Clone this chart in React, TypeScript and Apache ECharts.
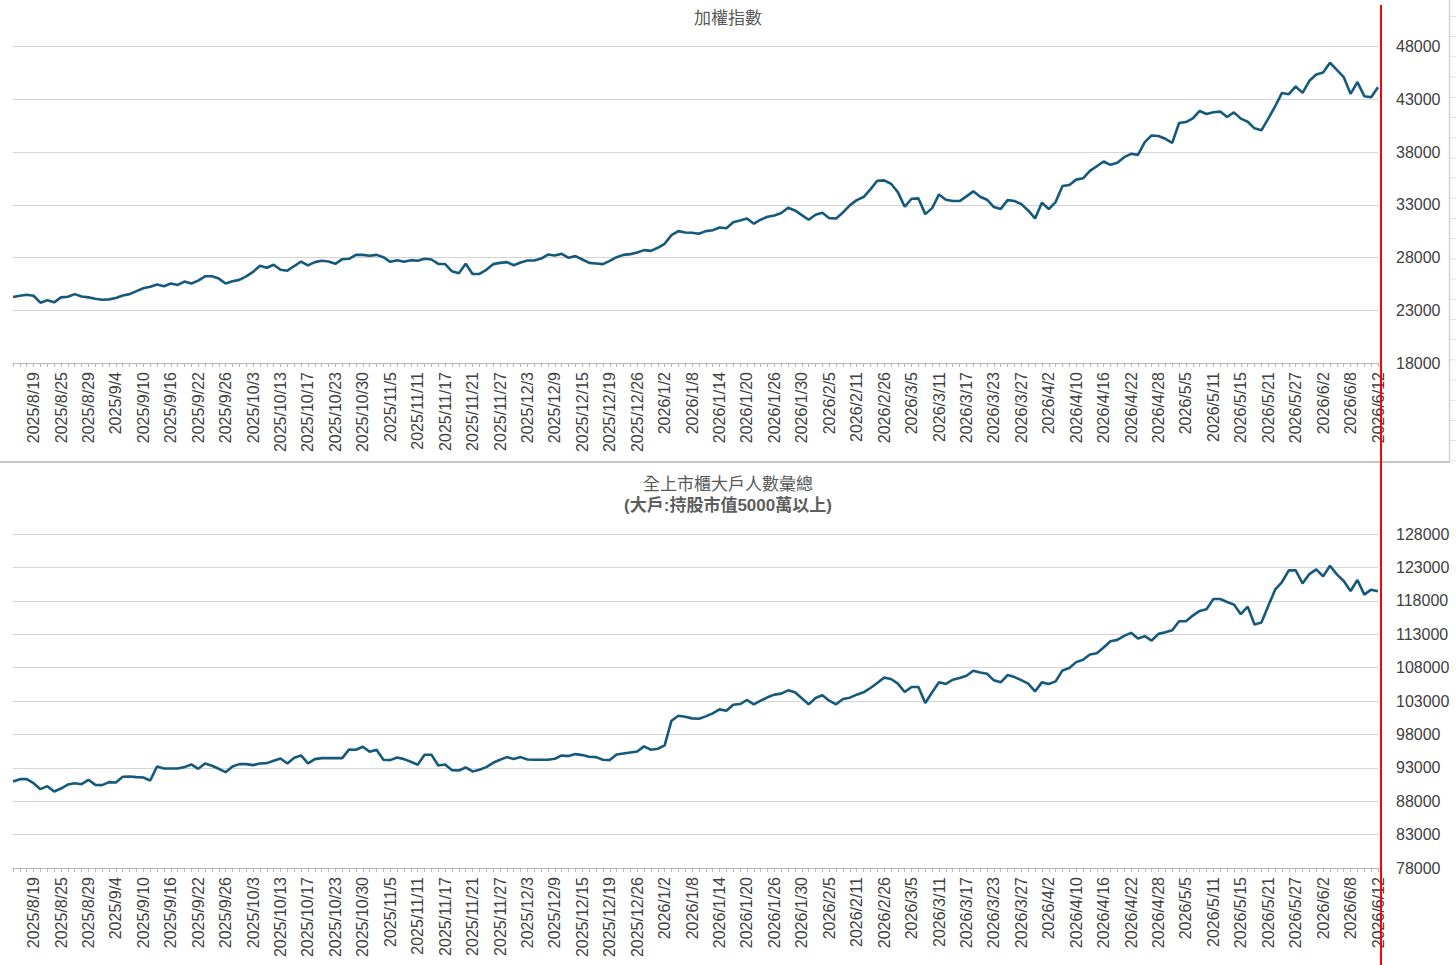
import React, { useEffect, useRef } from "react";
import * as echarts from "echarts";

// Trading days (Taiwan market), month -> days
const TRADING_DAYS: [string, number[]][] = [
  ["2025/8", [14, 15, 18, 19, 20, 21, 22, 25, 26, 27, 28, 29]],
  ["2025/9", [1, 2, 3, 4, 5, 8, 9, 10, 11, 12, 15, 16, 17, 18, 19, 22, 23, 24, 25, 26, 30]],
  ["2025/10", [1, 2, 3, 7, 8, 9, 13, 14, 15, 16, 17, 20, 21, 22, 23, 27, 28, 29, 30, 31]],
  ["2025/11", [3, 4, 5, 6, 7, 10, 11, 12, 13, 14, 17, 18, 19, 20, 21, 24, 25, 26, 27, 28]],
  ["2025/12", [1, 2, 3, 4, 5, 8, 9, 10, 11, 12, 15, 16, 17, 18, 19, 22, 23, 24, 26, 29, 30, 31]],
  ["2026/1", [2, 5, 6, 7, 8, 9, 12, 13, 14, 15, 16, 19, 20, 21, 22, 23, 26, 27, 28, 29, 30]],
  ["2026/2", [2, 3, 4, 5, 6, 9, 10, 11, 23, 24, 25, 26]],
  ["2026/3", [2, 3, 4, 5, 6, 9, 10, 11, 12, 13, 16, 17, 18, 19, 20, 23, 24, 25, 26, 27, 30, 31]],
  ["2026/4", [1, 2, 7, 8, 9, 10, 13, 14, 15, 16, 17, 20, 21, 22, 23, 24, 27, 28, 29, 30]],
  ["2026/5", [4, 5, 6, 7, 8, 11, 12, 13, 14, 15, 18, 19, 20, 21, 22, 25, 26, 27, 28, 29]],
  ["2026/6", [1, 2, 3, 4, 5, 8, 9, 10, 11, 12]],
];

const CATEGORIES: string[] = TRADING_DAYS.flatMap(([m, days]) => days.map((d) => `${m}/${d}`));

// 加權指數
const TAIEX_VALUES = [
  24250, 24375, 24470, 24375, 23720, 23940, 23750, 24220, 24280, 24530,
  24310, 24220, 24090, 24000, 24030, 24160, 24400, 24530, 24810, 25090,
  25220, 25440, 25280, 25530, 25400, 25720, 25530, 25810, 26220, 26220,
  26000, 25530, 25750, 25880, 26220, 26630, 27220, 27030, 27310, 26840,
  26750, 27190, 27620, 27250, 27560, 27690, 27620, 27400, 27840, 27880,
  28250, 28250, 28160, 28250, 28030, 27590, 27750, 27590, 27750, 27690,
  27880, 27810, 27400, 27380, 26690, 26500, 27400, 26440, 26450, 26830,
  27370, 27490, 27560, 27270, 27520, 27710, 27710, 27900, 28280, 28190,
  28350, 27970, 28130, 27810, 27490, 27430, 27370, 27680, 28030, 28250,
  28320, 28470, 28700, 28630, 28920, 29300, 30120, 30500, 30370, 30340,
  30250, 30500, 30590, 30850, 30780, 31350, 31510, 31700, 31200, 31580,
  31860, 31990, 32210, 32720, 32460, 32020, 31580, 32050, 32240, 31730,
  31700, 32270, 32940, 33440, 33730, 34460, 35280, 35310, 34990, 34200,
  32810, 33570, 33600, 32110, 32680, 33980, 33480, 33350, 33350, 33790,
  34270, 33760, 33480, 32780, 32590, 33440, 33350, 33060, 32460, 31700,
  33190, 32590, 33250, 34780, 34870, 35380, 35510, 36210, 36650, 37100,
  36780, 36970, 37510, 37830, 37730, 38940, 39570, 39510, 39250, 38870,
  40750, 40840, 41190, 41890, 41600, 41760, 41830, 41320, 41760, 41160,
  40870, 40240, 40050, 41160, 42330, 43600, 43480, 44210, 43600, 44750,
  45350, 45540, 46460, 45790, 45100, 43510, 44620, 43290, 43190, 44140,
];

// 全上市櫃大戶人數彙總
const HOLDER_VALUES = [
  90950, 91300, 91300, 90700, 89800, 90250, 89450, 89900, 90500, 90700,
  90550, 91200, 90450, 90400, 90850, 90800, 91650, 91700, 91600, 91550,
  91100, 93200, 92900, 92900, 92900, 93100, 93500, 92850, 93650, 93300,
  92850, 92350, 93200, 93550, 93550, 93400, 93650, 93700, 94050, 94400,
  93650, 94500, 94850, 93650, 94300, 94450, 94450, 94450, 94450, 95750,
  95700, 96150, 95400, 95700, 94200, 94150, 94550, 94300, 93900, 93450,
  94950, 94950, 93350, 93500, 92650, 92600, 93050, 92450, 92700, 93100,
  93750, 94200, 94600, 94300, 94600, 94250, 94200, 94200, 94200, 94350,
  94850, 94750, 95050, 94900, 94650, 94600, 94200, 94150, 95000, 95150,
  95300, 95450, 96200, 95700, 95850, 96350, 100050, 100800, 100650, 100400,
  100350, 100700, 101150, 101750, 101550, 102450, 102550, 103150, 102500, 103050,
  103550, 103950, 104100, 104600, 104300, 103400, 102500, 103450, 103850, 103050,
  102500, 103300, 103500, 103950, 104300, 104950, 105700, 106500, 106300, 105600,
  104350, 105100, 105100, 102700, 104300, 105800, 105550, 106180, 106430, 106780,
  107530, 107280, 107080, 106090, 105790, 106880, 106580, 106130, 105590, 104440,
  105790, 105540, 105940, 107580, 107930, 108820, 109170, 109970, 110160, 111010,
  111950, 112150, 112750, 113200, 112350, 112700, 112050, 113050, 113300, 113600,
  114940, 114940, 115790, 116480, 116730, 118270, 118270, 117830, 117430, 115990,
  117130, 114440, 114740, 117230, 119670, 120810, 122550, 122550, 120610, 122000,
  122700, 121660, 123250, 121960, 120960, 119470, 121110, 118920, 119670, 119420,
];

const TOP_TICKS = [18000, 48000]; // axis range
const BOTTOM_TICKS = [78000, 128000];
const TICK_STEP = 5000;
// ECharts counts ticks from multiples of interval; plot with a constant shift so that
// 18000 / 78000 become round multiples, and show the true values in the labels.
const SHIFT = 3000;

const FONT = "'Liberation Sans', 'Noto Sans CJK TC', sans-serif";
const LINE_COLOR = "#155a7c";
const LABEL_COLOR = "#404040";
const GRID_COLOR = "#d4d4d4";
const AXIS_COLOR = "#b8b8b8";

function xAxisFor(gridIndex: number) {
  return {
    type: "category",
    gridIndex,
    data: CATEGORIES,
    boundaryGap: false,
    axisLine: { show: true, lineStyle: { color: AXIS_COLOR, width: 1 } },
    axisTick: { show: true, interval: 0, length: 4, lineStyle: { color: AXIS_COLOR } },
    axisLabel: {
      rotate: 90,
      interval: (idx: number) => (idx - 3) % 4 === 0,
      margin: 9,
      fontSize: 16,
      fontFamily: FONT,
      color: LABEL_COLOR,
    },
    splitLine: { show: false },
  };
}

function yAxisFor(gridIndex: number, range: number[]) {
  return {
    type: "value",
    gridIndex,
    position: "right",
    min: range[0] - SHIFT,
    max: range[1] - SHIFT,
    interval: TICK_STEP,
    axisLine: { show: false },
    axisTick: { show: false },
    axisLabel: {
      margin: 18,
      fontSize: 16,
      fontFamily: FONT,
      color: LABEL_COLOR,
      formatter: (v: number) => String(v + SHIFT),
    },
    splitLine: { show: true, lineStyle: { color: GRID_COLOR, width: 1 } },
  };
}

export default function App() {
  const ref = useRef<HTMLDivElement>(null);

  useEffect(() => {
    if (!ref.current) return;
    const chart = echarts.init(ref.current, undefined, { renderer: "svg" });

    const rowLines: any[] = [];
    for (let y = 16.5; y < 462; y += 20.2) {
      rowLines.push({
        type: "line",
        shape: { x1: 1450, y1: y, x2: 1456, y2: y },
        style: { stroke: "#e2e2e2", lineWidth: 1 },
        silent: true,
      });
    }

    chart.setOption({
      animation: false,
      backgroundColor: "#ffffff",
      textStyle: { fontFamily: FONT },
      title: [
        {
          text: "加權指數",
          left: "center",
          top: 4,
          textStyle: { fontSize: 17, fontWeight: "normal", color: "#595959", fontFamily: FONT, lineHeight: 18 },
        },
        {
          text: "全上市櫃大戶人數彙總",
          subtext: "(大戶:持股市值5000萬以上)",
          left: "center",
          top: 470,
          itemGap: 3,
          textStyle: { fontSize: 17, fontWeight: "normal", color: "#595959", fontFamily: FONT, lineHeight: 18 },
          subtextStyle: { fontSize: 17, fontWeight: "bold", color: "#5e5e5e", fontFamily: FONT, lineHeight: 18 },
        },
      ],
      grid: [
        { left: 13, right: 78, top: 46.5, height: 316.5, containLabel: false },
        { left: 13, right: 78, top: 534, height: 334, containLabel: false },
      ],
      xAxis: [xAxisFor(0), xAxisFor(1)],
      yAxis: [yAxisFor(0, TOP_TICKS), yAxisFor(1, BOTTOM_TICKS)],
      series: [
        {
          name: "加權指數",
          type: "line",
          xAxisIndex: 0,
          yAxisIndex: 0,
          data: TAIEX_VALUES.map((v) => v - SHIFT),
          showSymbol: false,
          symbol: "none",
          lineStyle: { color: LINE_COLOR, width: 2.6 },
          itemStyle: { color: LINE_COLOR },
        },
        {
          name: "大戶人數",
          type: "line",
          xAxisIndex: 1,
          yAxisIndex: 1,
          data: HOLDER_VALUES.map((v) => v - SHIFT),
          showSymbol: false,
          symbol: "none",
          lineStyle: { color: LINE_COLOR, width: 2.6 },
          itemStyle: { color: LINE_COLOR },
        },
      ],
      graphic: [
        {
          type: "line",
          shape: { x1: 0, y1: 462, x2: 1450, y2: 462 },
          style: { stroke: "#c4c4c4", lineWidth: 2 },
          silent: true,
        },
        {
          type: "line",
          shape: { x1: 1449.5, y1: 0, x2: 1449.5, y2: 462 },
          style: { stroke: "#d2d2d2", lineWidth: 1.5 },
          silent: true,
        },
        ...rowLines,
        {
          type: "line",
          shape: { x1: 1381, y1: 5, x2: 1381, y2: 965 },
          style: { stroke: "#ff0000", lineWidth: 2 },
          silent: true,
          z: 100,
        },
      ],
    });

    return () => chart.dispose();
  }, []);

  return (
    <div
      ref={ref}
      style={{ position: "absolute", left: 0, top: 0, width: 1456, height: 965 }}
    />
  );
}
